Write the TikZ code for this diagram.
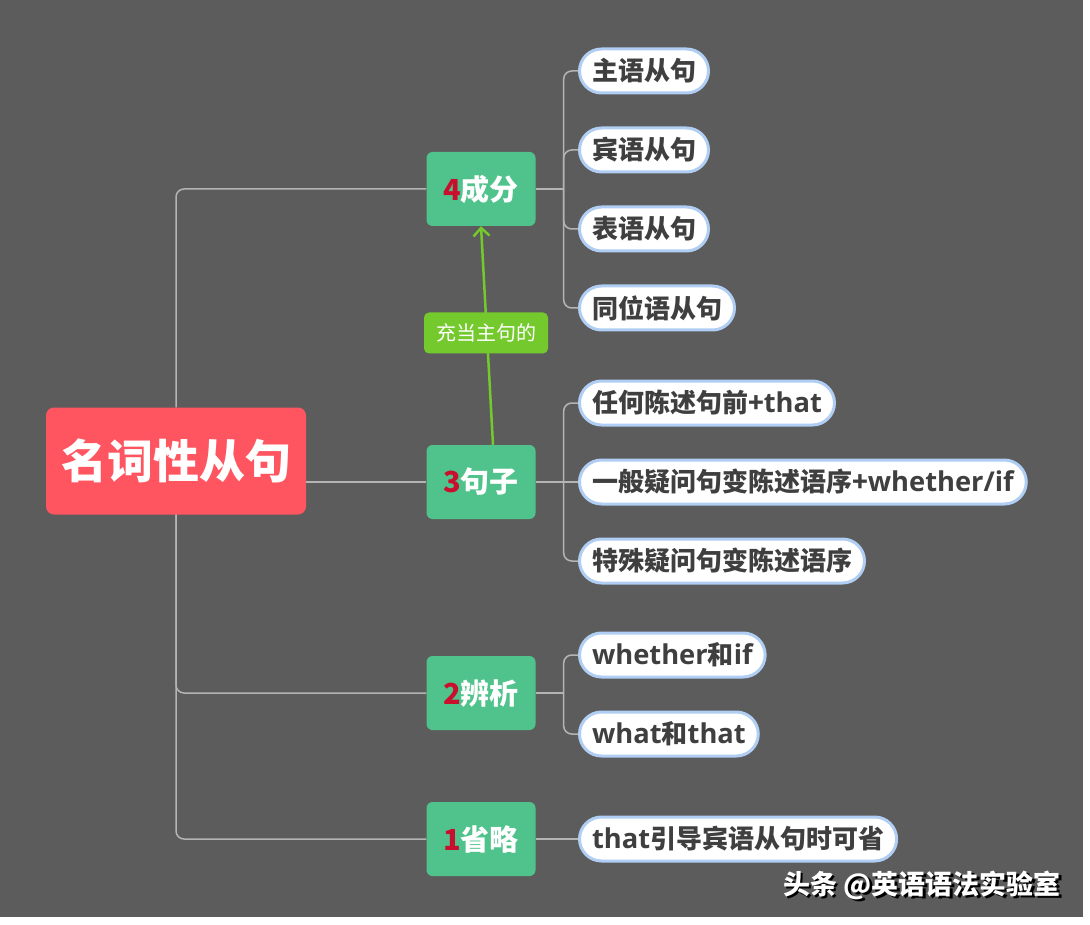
\documentclass[tikz,border=0pt]{standalone}
\usepackage{fontspec}
\setmainfont{Noto Sans CJK SC}
\newfontfamily\latinfont[Scale=1.05]{Open Sans}
\newcommand{\en}[1]{{\latinfont #1}}
\usetikzlibrary{positioning, arrows.meta}

\definecolor{canvas}{HTML}{5C5C5C}
\definecolor{rootred}{HTML}{FF5560}
\definecolor{topicgreen}{HTML}{50C28C}
\definecolor{numred}{HTML}{C8102E}
\definecolor{leafblue}{HTML}{B0CDF4}
\definecolor{leaftext}{HTML}{3F3F3F}
\definecolor{branchgray}{HTML}{B4B4B4}
\definecolor{notegreen}{HTML}{74C92C}

\newcommand{\num}[1]{\textcolor{numred}{#1}}

\tikzset{
  root/.style={fill=rootred, rounded corners=8pt, text=white,
    font=\fontsize{46}{50}\selectfont\bfseries,
    minimum width=260pt, minimum height=107pt},
  topic/.style={fill=topicgreen, rounded corners=6pt, text=white,
    font=\fontsize{29}{32}\selectfont\bfseries,
    minimum width=109pt, minimum height=74pt},
  leaf/.style={draw=leafblue, line width=3pt, fill=white, rounded corners=22pt,
    text=leaftext, font=\fontsize{26}{30}\selectfont\bfseries,
    minimum height=44pt, inner xsep=12.5pt, inner ysep=0pt, anchor=west},
  branch/.style={draw=branchgray, line width=1.5pt, rounded corners=8pt},
  note/.style={fill=notegreen, rounded corners=5pt, text=white,
    font=\fontsize{20}{22}\selectfont, minimum width=124pt, minimum height=41pt},
  watermark/.style={font=\fontsize{27}{30}\selectfont\bfseries},
}

\begin{document}
\begin{tikzpicture}[x=1pt, y=-1pt]

	\useasboundingbox (0,0) rectangle (1090,925);
	\fill[white] (0,0) rectangle (1090,925);
	\fill[canvas] (0,0) rectangle (1083,917);

	\node[root] (root) at (176,461) {名词性从句};
	\node[topic] (c4) at (481,189) {\num{4}成分};
	\node[topic] (c3) at (481,482) {\num{3}句子};
	\node[topic] (c2) at (481,693) {\num{2}辨析};
	\node[topic] (c1) at (481,839) {\num{1}省略};

	% 4 成分
	\node[leaf] (s1) at (578,71) {主语从句};
	\node[leaf, below=32pt of s1.south west, anchor=north west] (s2) {宾语从句};
	\node[leaf, below=32pt of s2.south west, anchor=north west] (s3) {表语从句};
	\node[leaf, below=32pt of s3.south west, anchor=north west] (s4) {同位语从句};

	% 3 句子
	\node[leaf] (t1) at (578,403) {任何陈述句前+\en{that}};
	\node[leaf, below=32pt of t1.south west, anchor=north west] (t2) {一般疑问句变陈述语序+\en{whether/if}};
	\node[leaf, below=32pt of t2.south west, anchor=north west] (t3) {特殊疑问句变陈述语序};

	% 2 辨析
	\node[leaf] (w1) at (578,655) {\en{whether}和\en{if}};
	\node[leaf, below=32pt of w1.south west, anchor=north west] (w2) {\en{what}和\en{that}};

	% 1 省略
	\node[leaf] (o1) at (578,839) {\en{that}引导宾语从句时可省};

	\draw[branch] (root.north) |- (c4.west);
	\draw[branch] (root.south) |- (c2.west);
	\draw[branch] (root.south) |- (c1.west);
	\draw[branch] (c3.west -| root.east) -- (c3.west);

	\coordinate (b4) at ([xshift=28pt]c4.east);
	\coordinate (b3) at ([xshift=28pt]c3.east);
	\coordinate (b2) at ([xshift=28pt]c2.east);
	\draw[branch] (c4.east) -- (b4);
	\draw[branch] (b4) |- (s1.west);
	\draw[branch] (b4) |- (s2.west);
	\draw[branch] (b4) |- (s3.west);
	\draw[branch] (b4) |- (s4.west);
	\draw[branch] (c3.east) -- (b3);
	\draw[branch] (b3) |- (t1.west);
	\draw[branch] (b3) -- (t2.west);
	\draw[branch] (b3) |- (t3.west);
	\draw[branch] (c2.east) -- (b2);
	\draw[branch] (b2) |- (w1.west);
	\draw[branch] (b2) |- (w2.west);
	\draw[branch] (c1.east) -- (o1.west);

	\draw[notegreen, line width=2.5pt, -{Straight Barb[length=8pt, width=16pt]}]
	([xshift=12pt]c3.north) -- (c4.south);
	\node[note] (note) at (486,333) {充当主句的};

	\node[watermark, text=black] at (924.5,887.5) {头条 @英语语法实验室};
	\node[watermark, text=white] (tag) at (922,885) {头条 @英语语法实验室};

\end{tikzpicture}
\end{document}
